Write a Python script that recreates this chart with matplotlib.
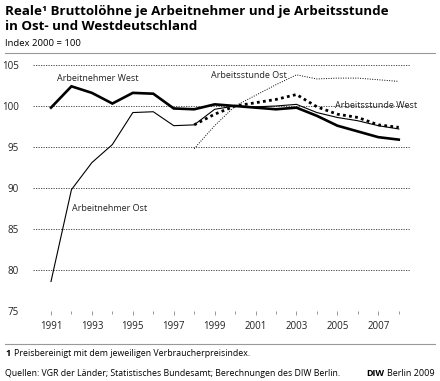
import numpy as np
from matplotlib import pyplot as plt
from matplotlib.ticker import MultipleLocator

plt.rcParams['font.family'] = ['Open Sans', 'DejaVu Sans']

# DATA (Index 2000 = 100)
years = list(range(1991, 2009))
years_h = list(range(1998, 2009))  # hourly series start in 1998

an_west = [99.8, 102.4, 101.6, 100.3, 101.6, 101.5, 99.7, 99.6, 100.2, 100.0,
           99.8, 99.6, 99.8, 98.8, 97.6, 96.9, 96.2, 95.9]
an_ost = [78.6, 89.8, 93.1, 95.3, 99.2, 99.3, 97.6, 97.7, 99.6, 100.0,
          99.9, 100.0, 100.2, 99.2, 98.6, 98.2, 97.6, 97.2]
as_west = [97.7, 99.0, 100.0, 100.4, 100.8, 101.4, 99.9, 99.0, 98.6, 97.7, 97.4]
as_ost = [94.8, 97.6, 100.0, 101.3, 102.6, 103.8, 103.3, 103.4, 103.4, 103.2, 103.0]

yticks = [75, 80, 85, 90, 95, 100, 105]
xticks = list(range(1991, 2009, 2))

fig = plt.figure(figsize=(4.4, 3.81), dpi=100)
ax = fig.add_axes([33 / 440, 1 - 311 / 381, 377 / 440, 246 / 381])

ax.plot(years, an_west, color='black', lw=1.9, solid_joinstyle='miter')
ax.plot(years, an_ost, color='black', lw=0.8)
ax.plot(years_h, as_west, color='black', lw=2.0, ls=(0, (1, 1.2)))
ax.plot(years_h, as_ost, color='black', lw=0.7, ls=(0, (1, 1.5)))

ax.set_xlim(1990.12, 2008.55)
ax.set_ylim(75, 105)
ax.set_yticks(yticks)
ax.set_xticks(xticks)
ax.xaxis.set_minor_locator(MultipleLocator(1))
ax.grid(axis='y', color='#333333', lw=0.6, ls=(0, (1.5, 1.5)))
for s in ax.spines.values():
    s.set_visible(False)
ax.tick_params(axis='y', length=0, labelsize=7, pad=10, colors='#222222')
ax.tick_params(axis='x', which='major', length=3, width=0.6, color='#888888',
               labelsize=7, pad=4, labelcolor='#222222')
ax.tick_params(axis='x', which='minor', length=1.8, width=0.6, color='#888888')
ax.set_axisbelow(True)

# series labels
lab = dict(fontsize=6.5, color='#222222', va='center', ha='left')
ax.text(1991.3, 103.4, 'Arbeitnehmer West', **lab)
ax.text(1998.8, 103.7, 'Arbeitsstunde Ost', **lab)
ax.text(2004.9, 100.1, 'Arbeitsstunde West', **lab)
ax.text(1992.05, 87.5, 'Arbeitnehmer Ost', **lab)

# title block
fig.text(5 / 440, 1 - 11 / 381, 'Reale¹ Bruttolöhne je Arbeitnehmer und je Arbeitsstunde',
         fontsize=9.6, fontweight='bold', va='center', ha='left')
fig.text(5 / 440, 1 - 27 / 381, 'in Ost- und Westdeutschland',
         fontsize=9.6, fontweight='bold', va='center', ha='left')
fig.text(5 / 440, 1 - 44 / 381, 'Index 2000 = 100', fontsize=6.8, va='center', ha='left')
fig.add_artist(plt.Line2D([5 / 440, 435 / 440], [1 - 53 / 381, 1 - 53 / 381],
                          color='#999999', lw=0.8))

# footer
fig.add_artist(plt.Line2D([5 / 440, 435 / 440], [1 - 344 / 381, 1 - 344 / 381],
                          color='#999999', lw=0.8))
fig.text(5 / 440, 1 - 353 / 381, '1', fontsize=6.5, fontweight='bold', va='center')
fig.text(14 / 440, 1 - 353 / 381, 'Preisbereinigt mit dem jeweiligen Verbraucherpreisindex.',
         fontsize=6.3, va='center')
fig.text(5 / 440, 1 - 373 / 381,
         'Quellen: VGR der Länder; Statistisches Bundesamt; Berechnungen des DIW Berlin.',
         fontsize=6.3, va='center')
berlin = fig.text(435 / 440, 1 - 373 / 381, 'Berlin 2009', fontsize=6.5, va='center', ha='right')
fig.canvas.draw()
bb = berlin.get_window_extent()
fig.text((bb.x0 - 3) / 440, 1 - 373 / 381, 'DIW', fontsize=6.5, fontweight='bold',
         va='center', ha='right')

fig.savefig('out.png', dpi=100)
